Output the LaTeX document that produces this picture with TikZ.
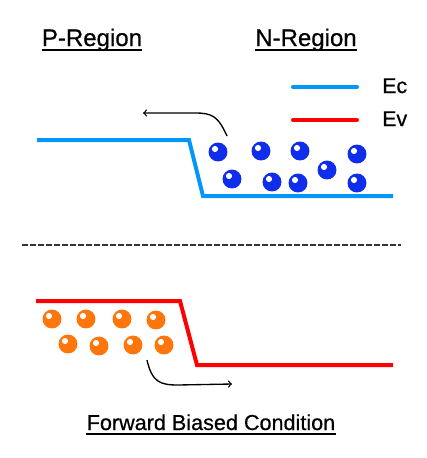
\documentclass[tikz,border=0pt]{standalone}
\usepackage{fontspec}
\setmainfont{Liberation Sans}
\newfontfamily\heavyfont[FakeBold=0.6]{Liberation Sans}
\definecolor{bandblue}{RGB}{0,150,250}
\definecolor{bandred}{RGB}{255,0,0}
\definecolor{elecblue}{RGB}{15,45,235}
\definecolor{holeorange}{RGB}{255,118,12}
\tikzset{
  band/.style={line width=3pt, line join=miter},
  particle/.style={circle, inner sep=0pt, minimum size=14.2pt,
    path picture={\fill[white] ([shift={(-3,-3)}]path picture bounding box.center) circle (2.3pt);}},
  electron/.style={particle, fill=elecblue},
  hole/.style={particle, fill=holeorange},
  flow/.style={->, line width=1pt, black},
  heading/.style={anchor=base, inner sep=0pt, font=\heavyfont\fontsize{18}{20}\selectfont},
  legendtext/.style={anchor=base west, inner sep=0pt, font=\heavyfont\fontsize{16}{18}\selectfont},
  underline/.style={line width=1.1pt, black},
}
\begin{document}
\begin{tikzpicture}[x=0.75pt, y=-0.75pt]
    \useasboundingbox (0,0) rectangle (426,458);
    % headings
    \node[heading] (pregion) at (92,46) {P-Region};
    \node[heading] (nregion) at (306,46) {N-Region};
    \draw[underline] ([yshift=-3pt]pregion.base west) -- ([yshift=-3pt]pregion.base east);
    \draw[underline] ([yshift=-3pt]nregion.base west) -- ([yshift=-3pt]nregion.base east);
    % legend
    \coordinate (ecleft) at (293,87);
    \coordinate (ecright) at (357,87);
    \coordinate (evleft) at (293,120);
    \coordinate (evright) at (357,120);
    \draw[line width=3pt, bandblue, line cap=round] (ecleft) -- (ecright);
    \draw[line width=3pt, bandred, line cap=round] (evleft) -- (evright);
    \node[legendtext] (ec) at (382,93) {Ec};
    \node[legendtext] (ev) at (382,126) {Ev};
    % conduction band
    \draw[band, bandblue] (37,140) -- (189,140) -- (203,196) -- (393,196);
    \node[electron] (e1) at (218,152) {};
    \node[electron] (e2) at (261,151) {};
    \node[electron] (e3) at (300,151) {};
    \node[electron] (e4) at (357,154) {};
    \node[electron] (e5) at (232,179) {};
    \node[electron] (e6) at (272,182) {};
    \node[electron] (e7) at (298,183) {};
    \node[electron] (e8) at (327,170) {};
    \node[electron] (e9) at (357,183) {};
    \coordinate (elecstart) at (227,136);
    \coordinate (elecend) at (143,113);
    \draw[flow] (elecstart) .. controls (218,116) and (212,113) .. (195,113) -- (elecend);
    % divider
    \draw[line width=1.5pt, dash pattern=on 4.5pt off 1.5pt, black!80] (22,245) -- (401,245);
    % valence band
    \draw[band, bandred] (36,301) -- (180,301) -- (197,365) -- (393,365);
    \node[hole] (h1) at (52,319) {};
    \node[hole] (h2) at (86,319) {};
    \node[hole] (h3) at (122,319) {};
    \node[hole] (h4) at (156,320) {};
    \node[hole] (h5) at (68,344) {};
    \node[hole] (h6) at (99,346) {};
    \node[hole] (h7) at (133,345) {};
    \node[hole] (h8) at (164,345) {};
    \coordinate (holestart) at (147,360);
    \coordinate (holeend) at (232,384);
    \draw[flow] (holestart) .. controls (152,382) and (160,385) .. (178,385) -- (holeend);
    % caption
    \node[anchor=base, inner sep=0pt, font=\heavyfont\fontsize{16.2}{18}\selectfont] (caption) at (211,430) {Forward Biased Condition};
    \draw[underline] ([yshift=-3pt]caption.base west) -- ([yshift=-3pt]caption.base east);
\end{tikzpicture}
\end{document}
